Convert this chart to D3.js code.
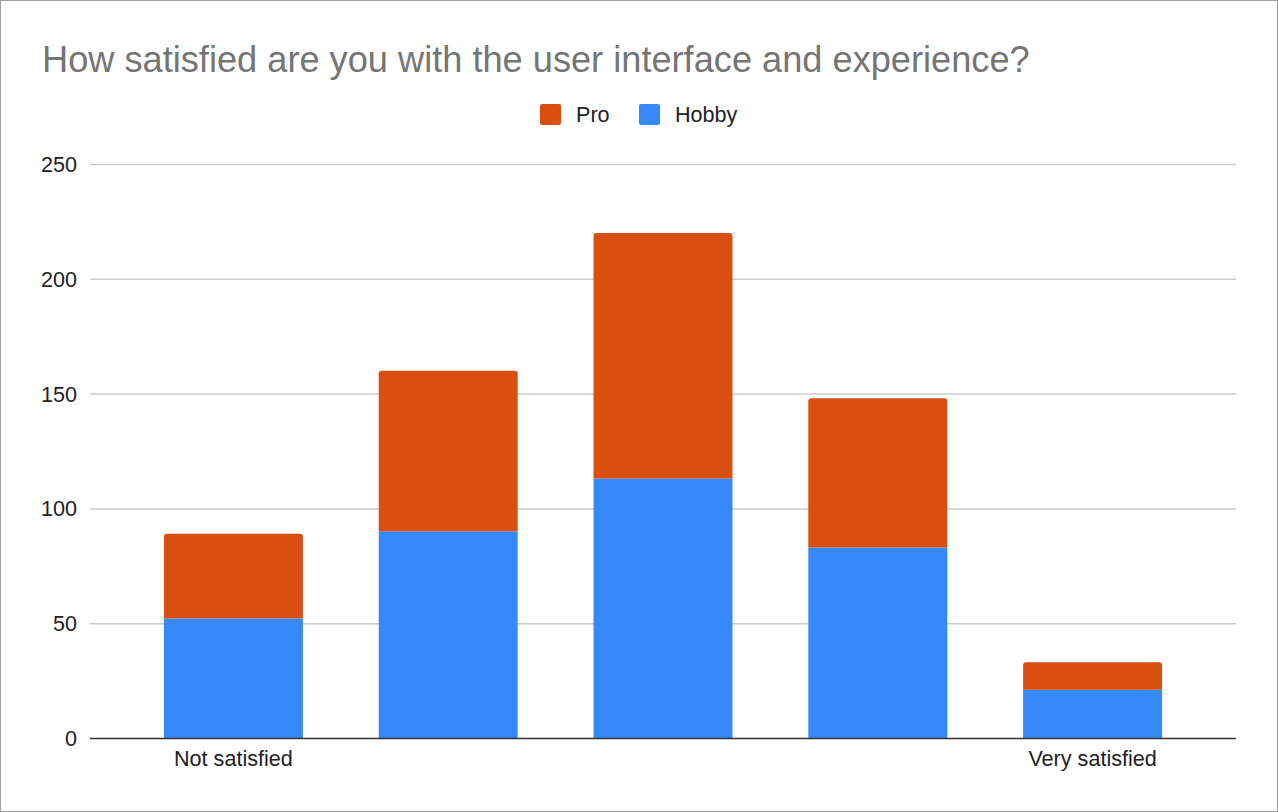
<!DOCTYPE html>
<html>
<head>
<meta charset="utf-8">
<script src="https://cdn.jsdelivr.net/npm/d3@7"></script>
<style>
  body { margin: 0; background: #fff; }
  svg { display: block; font-family: Arial, "Liberation Sans", sans-serif; }
</style>
</head>
<body>
<script>
// data
var categories = ["1", "2", "3", "4", "5"];
var tickLabels = ["Not satisfied", "", "", "", "Very satisfied"];
var hobby = [52, 90, 113, 83, 21];
var pro = [37, 70, 107, 65, 12];
var seriesNames = ["Pro", "Hobby"];
var seriesColors = ["#d84f0f", "#3589f9"];
var yTicks = [0, 50, 100, 150, 200, 250];

var width = 1278, height = 812;

var svg = d3.select("body").append("svg")
    .attr("width", width)
    .attr("height", height);

// outer frame
svg.append("rect")
    .attr("x", 0.5).attr("y", 0.5)
    .attr("width", width - 1).attr("height", height - 1)
    .attr("fill", "#fff")
    .attr("stroke", "#9e9e9e");

svg.append("text")
    .attr("x", 42).attr("y", 72)
    .attr("fill", "#757575")
    .style("font-size", "36.2px")
    .text("How satisfied are you with the user interface and experience?");

// legend
var legend = svg.append("g");
var legendX = [540, 639];
seriesNames.forEach(function (name, i) {
    legend.append("rect")
        .attr("x", legendX[i]).attr("y", 104)
        .attr("width", 21).attr("height", 21)
        .attr("rx", 2)
        .attr("fill", seriesColors[i]);
    legend.append("text")
        .attr("x", legendX[i] + 36).attr("y", 122)
        .attr("fill", "#222")
        .style("font-size", "21.6px")
        .text(name);
});

var plotLeft = 90, plotRight = 1236;

var x = d3.scaleBand()
    .domain(categories)
    .range([126, 1200])
    .paddingInner(0.353)
    .paddingOuter(0.1765);

var y = d3.scaleLinear()
    .domain([0, 250])
    .range([738, 164]);

// gridlines
svg.append("g").selectAll("line")
    .data(yTicks.filter(function (d) { return d > 0; }))
    .enter().append("line")
    .attr("x1", plotLeft).attr("x2", plotRight)
    .attr("y1", function (d) { return y(d) + 0.5; })
    .attr("y2", function (d) { return y(d) + 0.5; })
    .attr("stroke", "#cccccc")
    .attr("stroke-width", 1.5);

// y axis labels
svg.append("g").selectAll("text")
    .data(yTicks)
    .enter().append("text")
    .attr("x", 77)
    .attr("y", function (d) { return y(d) + 8; })
    .attr("text-anchor", "end")
    .attr("fill", "#222")
    .style("font-size", "21.6px")
    .text(function (d) { return d; });

// stacked bars
var rows = categories.map(function (c, i) {
    return { cat: c, Hobby: hobby[i], Pro: pro[i] };
});
var stack = d3.stack().keys(["Hobby", "Pro"])(rows);
var colorOf = { Pro: seriesColors[0], Hobby: seriesColors[1] };

function barPath(x0, y0, w, h, r) {
    // rounded top corners only
    return "M" + x0 + "," + (y0 + h) +
        "V" + (y0 + r) +
        "Q" + x0 + "," + y0 + " " + (x0 + r) + "," + y0 +
        "H" + (x0 + w - r) +
        "Q" + (x0 + w) + "," + y0 + " " + (x0 + w) + "," + (y0 + r) +
        "V" + (y0 + h) + "Z";
}

stack.forEach(function (layer) {
    var top = layer.key === "Pro";
    svg.append("g").selectAll("path")
        .data(layer)
        .enter().append("path")
        .attr("d", function (d) {
            var y0 = y(d[1]), h = y(d[0]) - y(d[1]);
            return barPath(x(d.data.cat), y0, x.bandwidth(), h, top ? 3 : 0);
        })
        .attr("fill", colorOf[layer.key]);
});

// baseline
svg.append("line")
    .attr("x1", plotLeft).attr("x2", plotRight)
    .attr("y1", y(0) + 0.5).attr("y2", y(0) + 0.5)
    .attr("stroke", "#333")
    .attr("stroke-width", 1.5);

// x labels
svg.append("g").selectAll("text")
    .data(categories)
    .enter().append("text")
    .attr("x", function (d) { return x(d) + x.bandwidth() / 2; })
    .attr("y", 766)
    .attr("text-anchor", "middle")
    .attr("fill", "#222")
    .style("font-size", "21.6px")
    .text(function (d, i) { return tickLabels[i]; });
</script>
</body>
</html>
